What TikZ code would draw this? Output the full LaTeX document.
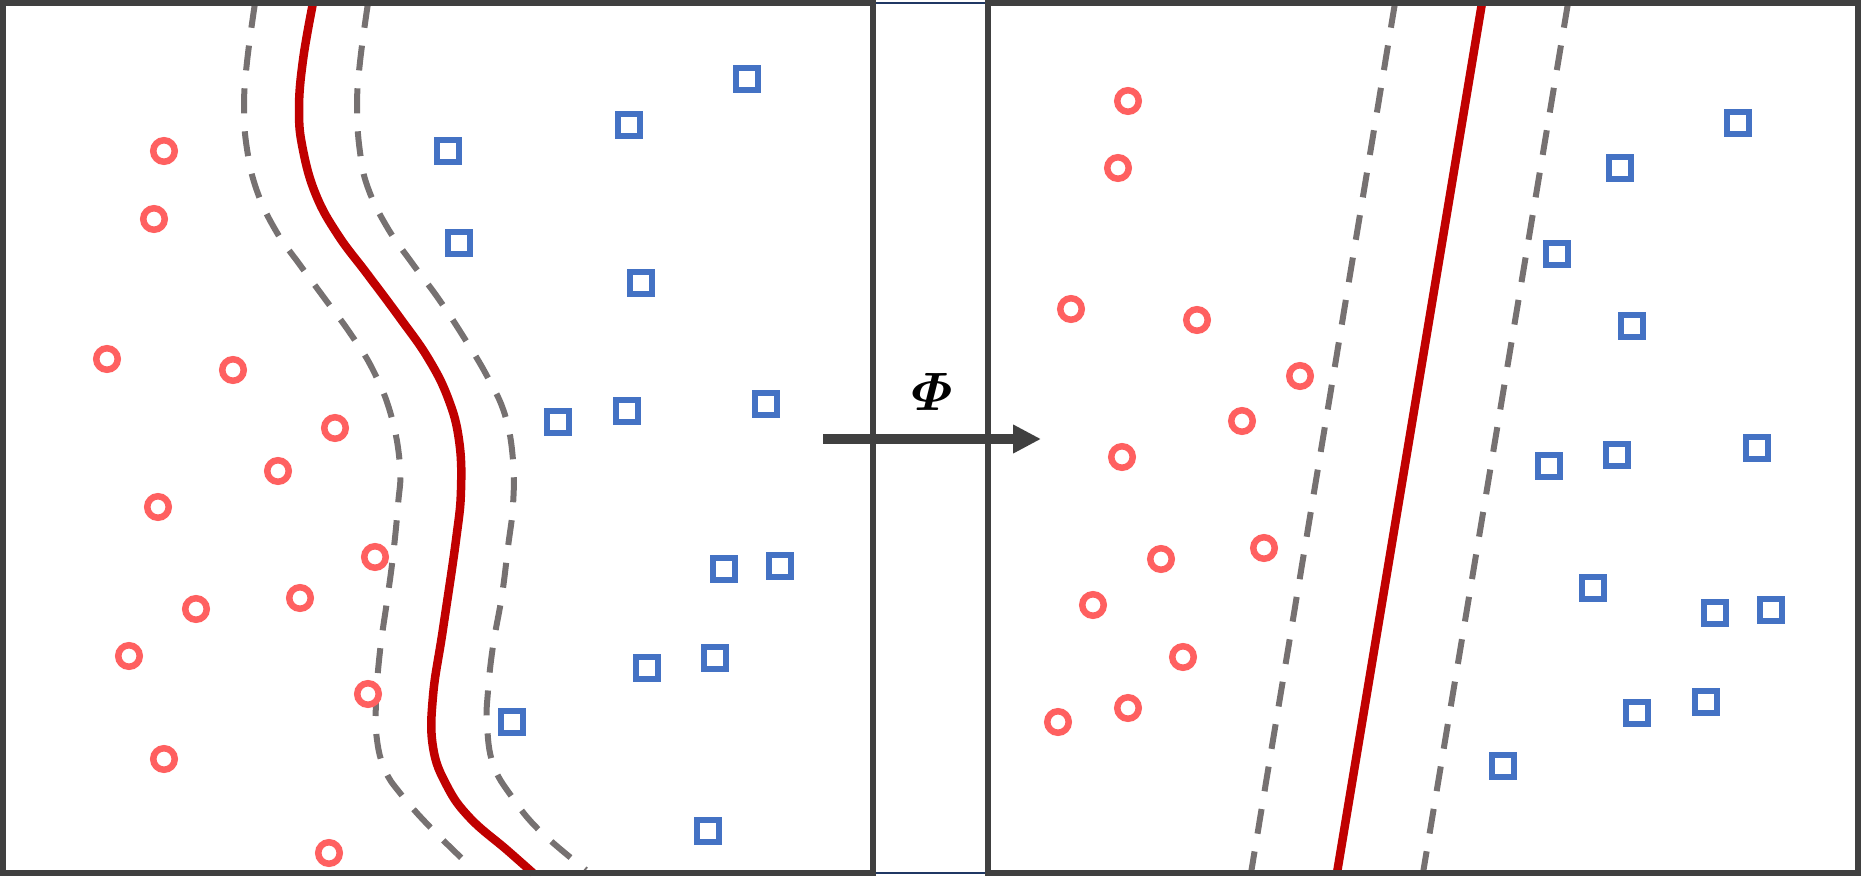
\documentclass[tikz,border=0pt]{standalone}
\usepackage{amsmath,amsbsy}
\usetikzlibrary{arrows.meta}
\definecolor{frame}{HTML}{404040}
\definecolor{ptred}{RGB}{255,96,96}
\definecolor{ptblue}{HTML}{4472C4}
\definecolor{sepred}{HTML}{C00000}
\definecolor{margray}{HTML}{767171}
\definecolor{navy}{HTML}{203864}
\tikzset{
  circ/.style={circle, draw=ptred, fill=white, line width=6.5pt, minimum size=21.5pt, inner sep=0pt},
  sq/.style={rectangle, draw=ptblue, fill=white, line width=6pt, minimum size=22pt, inner sep=0pt},
  sepline/.style={draw=sepred, line width=8.5pt},
  marg/.style={draw=margray, line width=6pt, dash pattern=on 25pt off 18pt},
  panel/.style={draw=frame, line width=6pt},
}
\begin{document}
\begin{tikzpicture}[x=1pt,y=-1pt]
\useasboundingbox (0,0) rectangle (1861,878);
% thin navy lines between panels
\coordinate (nt1) at (870,3); \coordinate (nt2) at (990,3);
\coordinate (nb1) at (870,873); \coordinate (nb2) at (990,873);
\draw[navy, line width=2pt] (nt1) -- (nt2);
\draw[navy, line width=2pt] (nb1) -- (nb2);
% left panel curves
\draw[marg] plot[smooth, tension=0.7] coordinates {(255,3) (247,62) (244,107) (247,149) (257,191) (276,231) (300,265) (325,299) (350,333) (373,370) (391,415) (400,466) (398,505) (393,556) (387,601) (380,651) (376,702) (377,740) (385,770) (400,793) (430,827) (474,870)};
\draw[marg] plot[smooth, tension=0.7] coordinates {(368,3) (360,62) (357,107) (360,152) (368,188) (387,227) (412,263) (438,298) (463,336) (487,376) (505,415) (513,460) (513,505) (508,547) (502,595) (493,646) (488,691) (487,724) (493,764) (512,797) (540,831) (586,870)};
\draw[sepline] plot[smooth, tension=0.7] coordinates {(313,3) (303,60) (299,110) (303,150) (316,195) (338,235) (368,275) (400,318) (428,358) (448,398) (459,440) (461,490) (456,540) (443,629) (433,696) (433,747) (447,786) (470,818) (507,850) (533,873)};
% right panel lines
\coordinate (l1a) at (1395,3); \coordinate (l1b) at (1251,873);
\coordinate (l2a) at (1482,3); \coordinate (l2b) at (1337,873);
\coordinate (l3a) at (1568,3); \coordinate (l3b) at (1423,873);
\draw[marg] (l1a) -- (l1b);
\draw[sepline] (l2a) -- (l2b);
\draw[marg] (l3a) -- (l3b);
% left panel circles
\node[circ] (c1) at (164,151) {};
\node[circ] (c2) at (154,219) {};
\node[circ] (c3) at (107,359) {};
\node[circ] (c4) at (233,370) {};
\node[circ] (c5) at (335,428) {};
\node[circ] (c6) at (278,471) {};
\node[circ] (c7) at (158,507) {};
\node[circ] (c8) at (375,557) {};
\node[circ] (c9) at (196,609) {};
\node[circ] (c10) at (300,598) {};
\node[circ] (c11) at (129,656) {};
\node[circ] (c12) at (368,694) {};
\node[circ] (c13) at (164,759) {};
\node[circ] (c14) at (329,853) {};
% left panel squares
\node[sq] (s1) at (747,79) {};
\node[sq] (s2) at (629,125) {};
\node[sq] (s3) at (448,151) {};
\node[sq] (s4) at (459,243) {};
\node[sq] (s5) at (641,283) {};
\node[sq] (s6) at (558,422) {};
\node[sq] (s7) at (627,411) {};
\node[sq] (s8) at (766,404) {};
\node[sq] (s9) at (724,569) {};
\node[sq] (s10) at (780,566) {};
\node[sq] (s11) at (647,668) {};
\node[sq] (s12) at (715,658) {};
\node[sq] (s13) at (512,722) {};
\node[sq] (s14) at (708,831) {};
% right panel circles
\node[circ] (d1) at (1128,101) {};
\node[circ] (d2) at (1118,168) {};
\node[circ] (d3) at (1071,309) {};
\node[circ] (d4) at (1197,320) {};
\node[circ] (d5) at (1300,376) {};
\node[circ] (d6) at (1242,421) {};
\node[circ] (d7) at (1122,457) {};
\node[circ] (d8) at (1161,559) {};
\node[circ] (d9) at (1264,548) {};
\node[circ] (d10) at (1093,605) {};
\node[circ] (d11) at (1183,657) {};
\node[circ] (d12) at (1128,708) {};
\node[circ] (d13) at (1058,722) {};
% right panel squares
\node[sq] (t1) at (1738,123) {};
\node[sq] (t2) at (1620,168) {};
\node[sq] (t3) at (1557,254) {};
\node[sq] (t4) at (1632,326) {};
\node[sq] (t5) at (1549,466) {};
\node[sq] (t6) at (1617,455) {};
\node[sq] (t7) at (1757,448) {};
\node[sq] (t8) at (1593,588) {};
\node[sq] (t9) at (1715,613) {};
\node[sq] (t10) at (1771,610) {};
\node[sq] (t11) at (1637,713) {};
\node[sq] (t12) at (1706,702) {};
\node[sq] (t13) at (1503,766) {};
% panels
\node[panel, inner sep=0pt, minimum width=870pt, minimum height=870pt] (P1) at (438,438) {};
\node[panel, inner sep=0pt, minimum width=870pt, minimum height=870pt] (P2) at (1423,438) {};
% mapping arrow
\coordinate (aS) at (823,439);
\coordinate (aE) at (1041,439);
\draw[draw=frame, line width=10pt, -{Triangle[length=28pt,width=27pt]}] (aS) -- (aE);
\node[scale=5.4, inner sep=0pt] (phi) at (932,392) {$\boldsymbol{\varPhi}$};
\end{tikzpicture}
\end{document}
